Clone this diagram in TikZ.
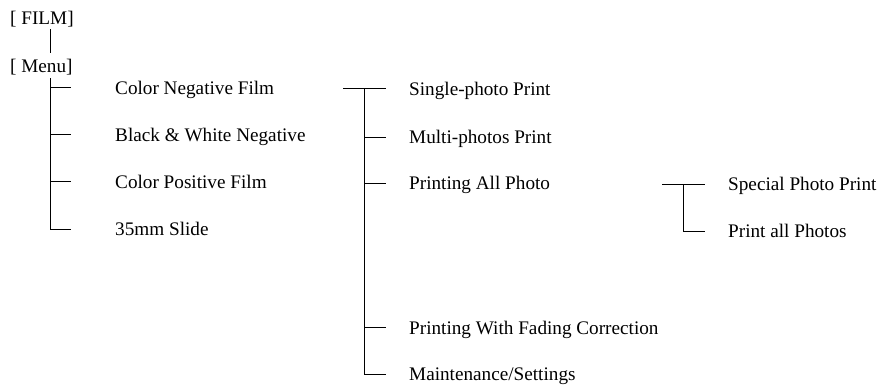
\documentclass[tikz,border=0pt]{standalone}
\usepackage{fontspec}
\setmainfont{Liberation Serif}
\begin{document}
\begin{tikzpicture}[x=1pt,y=-1pt,
  lbl/.style={anchor=base west,inner sep=0pt,font=\fontsize{19.2}{23}\selectfont},
  conn/.style={line width=1pt,line cap=rect}]
\useasboundingbox (0,0) rectangle (883,385);
% texts
\node[lbl] (film) at (10,25) {[ FILM]};
\node[lbl] (menu) at (10,72.7) {[ Menu]};
\node[lbl] (cneg) at (115,94.2) {Color Negative Film};
\node[lbl] (bw)   at (115,141.5) {Black \& White Negative};
\node[lbl] (cpos) at (115,188.2) {Color Positive Film};
\node[lbl] (slide) at (115,235.5) {35mm Slide};
\node[lbl] (single) at (409,95.5) {Single-photo Print};
\node[lbl] (multi)  at (409,143.8) {Multi-photos Print};
\node[lbl] (pall)   at (409,189.8) {Printing All Photo};
\node[lbl] (fade)   at (409,334.2) {Printing With Fading Correction};
\node[lbl] (maint)  at (409,380.5) {Maintenance/Settings};
\node[lbl] (spec)   at (728,190.5) {Special Photo Print};
\node[lbl] (pallp)  at (728,237.5) {Print all Photos};
% junction coordinates
\coordinate (fa) at (50,29.3);
\coordinate (fb) at (50,52.7);
\coordinate (ma) at (50,78.3);
\coordinate (m1) at (50,87.7);
\coordinate (m2) at (50,135);
\coordinate (m3) at (50,181.7);
\coordinate (m4) at (50,229);
\coordinate (k1) at (343,89);
\coordinate (p1) at (364,89);
\coordinate (p2) at (364,137.3);
\coordinate (p3) at (364,183.3);
\coordinate (p4) at (364,327.7);
\coordinate (p5) at (364,374);
\coordinate (k2) at (662.7,184);
\coordinate (q1) at (683.3,184);
\coordinate (q2) at (683.3,231);
% connectors
\draw[conn] (fa) -- (fb);
\draw[conn] (ma) -- (m4) -- ++(20.7,0);
\foreach \c in {m1,m2,m3} \draw[conn] (\c) -- ++(20.7,0);
\draw[conn] (k1) -- ++(42,0);
\draw[conn] (p1) -- (p5) -- ++(21,0);
\foreach \c in {p2,p3,p4} \draw[conn] (\c) -- ++(21,0);
\draw[conn] (k2) -- ++(41.3,0);
\draw[conn] (q1) -- (q2) -- ++(20.7,0);
\end{tikzpicture}
\end{document}
